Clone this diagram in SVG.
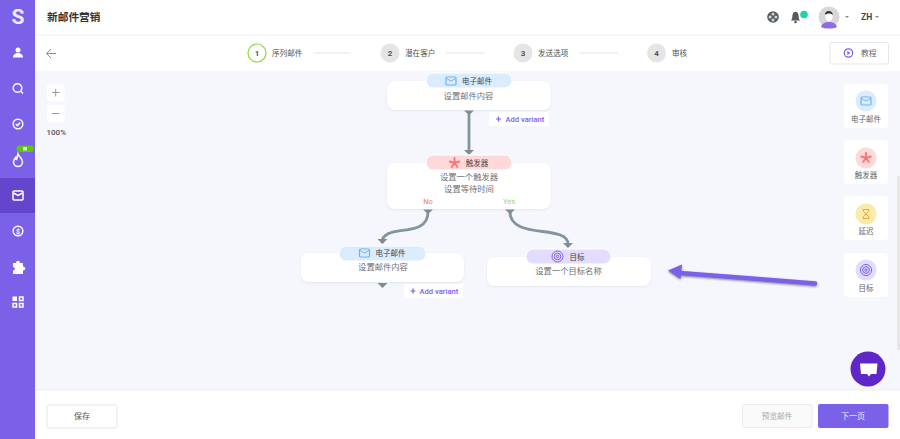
<svg xmlns="http://www.w3.org/2000/svg" width="900" height="439" viewBox="0 0 900 439">
<style>
text{font-family:Roboto,"Noto Sans CJK SC",sans-serif}
.cn{font-family:"Noto Sans CJK SC",sans-serif}
.card{fill:#fff;filter:url(#sh)}
.body{font-size:8.3px;fill:#6f6f75;text-anchor:middle;font-family:"Noto Sans CJK SC",sans-serif}
.pilltx{font-size:7.5px;fill:#444;text-anchor:middle;font-family:"Noto Sans CJK SC",sans-serif}
.side{fill:none;stroke:#fff;stroke-width:1.5}
.conn{fill:none;stroke:#82959f;stroke-width:2.8}
.head{fill:#7f8c93}
.var{font-size:7.6px;fill:#7b60e8;font-weight:500}
.step{font-size:7.6px;fill:#555;font-family:"Noto Sans CJK SC",sans-serif}
.stepn{font-size:8px;fill:#555;font-weight:bold;text-anchor:middle}
.pal{font-size:7.5px;fill:#5f5f65;text-anchor:middle;font-family:"Noto Sans CJK SC",sans-serif}
.rail{stroke:#e4e4e6;stroke-width:1}
</style>
<defs>
<filter id="sh" x="-10%" y="-20%" width="120%" height="150%"><feDropShadow dx="0" dy="1" stdDeviation="1" flood-color="#8a8fb0" flood-opacity=".18"/></filter>
<filter id="ash" x="-10%" y="-50%" width="120%" height="220%"><feDropShadow dx="0" dy="1" stdDeviation=".8" flood-color="#222" flood-opacity=".55"/></filter>
<g id="mail"><rect x="-5" y="-4" width="10" height="8" rx="1" fill="none" stroke="#6db3f5" stroke-width="1.200"/><path d="M-4.500 -2.500L0 0L4.500 -2.500" fill="none" stroke="#6db3f5" stroke-width="1"/></g>
<g id="star" stroke="#fb7373" stroke-width="1.900" stroke-linecap="round"><path d="M0 0V-5M0 0L4.700 -1.500M0 0L-4.700 -1.500M0 0L2.900 4M0 0L-2.900 4"/></g>
<g id="goal" fill="none" stroke="#7b60e8" stroke-width="1"><circle r="5.500"/><circle r="3.300"/><circle r="1.200"/></g>
</defs>

<rect width="900" height="439" fill="#f6f7fd"/>

<g id="header">
<rect x="35" width="865" height="34" fill="#fff"/>
<rect x="35" y="36" width="865" height="35" fill="#fff"/>
<text class="cn" x="47" y="21" font-size="10.700" font-weight="bold" fill="#333">新邮件营销</text>
<g id="help-icon" transform="translate(773,17)"><circle r="5.800" fill="#555b60"/><circle cy="-2.900" r="1.500" fill="#d5d6d8"/><circle cy="2.900" r="1.500" fill="#d5d6d8"/><circle cx="-2.900" r="1.500" fill="#d5d6d8"/><circle cx="2.900" r="1.500" fill="#d5d6d8"/></g>
<g id="bell-icon"><path d="M791 20.500c1.500-1.500 1-3 1.500-5.500.4-2 1.500-3.200 3-3.200s2.600 1.200 3 3.200c.5 2.500 0 4 1.500 5.500z" fill="#555b60"/><circle cx="795.500" cy="22" r="1.300" fill="#555b60"/><circle cx="804" cy="14.500" r="3.800" fill="#1dd3a5"/></g>
<g id="avatar"><circle cx="829" cy="17" r="10.500" fill="#d8d8da"/><path d="M821 27c1-4 5-5 8-5s7 1 8 5c-2 1-5 1.500-8 1.500s-6-.5-8-1.500z" fill="#8e6be8"/><ellipse cx="829" cy="16.500" rx="3.600" ry="5" fill="#fff"/><path d="M825 15c-.5-5 7.500-5.500 8 0-2-2-6-2-8 0z" fill="#333"/></g>
<path d="M845 16h4l-2 2z" fill="#888"/>
<text x="861" y="20" font-size="8.500" font-weight="bold" fill="#444">ZH</text>
<path d="M875 16h4l-2 2z" fill="#888"/>
<path d="M56 53.500H47M51 49l-4.500 4.500L51 58" fill="none" stroke="#8d8d90" stroke-width="1"/>
</g>

<g id="stepper">
<circle cx="257" cy="53" r="9" fill="#fff" stroke="#8fd53a" stroke-width="1.200"/><text class="stepn" x="257" y="56">1</text><text class="step" x="272" y="56">序列邮件</text>
<line class="rail" x1="313" y1="53" x2="351" y2="53"/>
<circle cx="390" cy="53" r="9.500" fill="#e5e5e5"/><text class="stepn" x="390" y="56">2</text><text class="step" x="405" y="56">潜在客户</text>
<line class="rail" x1="446" y1="53" x2="485" y2="53"/>
<circle cx="523" cy="53" r="9.500" fill="#e5e5e5"/><text class="stepn" x="523" y="56">3</text><text class="step" x="538" y="56">发送选项</text>
<line class="rail" x1="579" y1="53" x2="618" y2="53"/>
<circle cx="656.500" cy="53" r="9.500" fill="#e5e5e5"/><text class="stepn" x="656.500" y="56">4</text><text class="step" x="672" y="56">审核</text>
</g>

<g id="tutorial-button">
<rect x="830" y="42.500" width="58.500" height="21.500" rx="2" fill="#fff" stroke="#e6e6ea"/>
<circle cx="848.500" cy="53" r="4.200" fill="none" stroke="#7b60e8" stroke-width="1.200"/><path d="M847.300 51v4l3-2z" fill="#7b60e8"/>
<text class="cn" x="861" y="56" font-size="7.800" fill="#666">教程</text>
</g>

<g id="sidebar">
<rect width="35" height="439" fill="#7b60e8"/>
<rect y="178" width="35" height="35" fill="#6346cc"/>
<text x="18" y="24" font-size="21" font-weight="bold" fill="#f0ecff" text-anchor="middle">S</text>
<circle cx="18" cy="50" r="2.500" fill="#fff"/><path d="M13 57.500c0-6 10-6 10 0z" fill="#fff"/>
<circle class="side" cx="17.500" cy="88" r="4.300"/><path class="side" d="M20.800 91.300l2.200 2.200"/>
<circle class="side" cx="18" cy="124" r="4.800"/><path class="side" d="M15.800 124l1.600 1.600 2.800-3"/>
<rect x="16.500" y="145.500" width="17.500" height="6.500" rx="3.200" fill="#5ec411"/><rect x="23" y="147" width="4" height="3.500" fill="#dff5c5"/>
<path class="side" d="M18 154c1 3 4.500 4 4.500 8a4.500 4.500 0 0 1-9 0c0-2 1-3.500 2-4.500 0 1.500.5 2 1 2 .5-2 1-3.500 1.500-5.500z"/>
<rect x="13" y="191" width="10" height="9" rx="1" fill="none" stroke="#fff" stroke-width="1.500"/><path class="side" d="M13.500 193l4.500 2.500 4.500-2.500"/>
<circle class="side" cx="18" cy="231" r="4.800"/><text x="18" y="233.500" font-size="7" font-weight="bold" fill="#fff" text-anchor="middle">$</text>
<path d="M13 263h3c0-3 4-3 4 0h3v3.500c3 0 3 4 0 4V274h-10v-3.500c2.500 0 2.500-3.500 0-3.500z" fill="#fff"/>
<rect x="12.500" y="296.500" width="4.500" height="4.500" fill="#fff"/><rect class="side" x="19.500" y="297" width="3.500" height="3.500" stroke-width="1.200"/><rect class="side" x="13" y="303.500" width="3.500" height="3.500" stroke-width="1.200"/><rect class="side" x="19.500" y="303.500" width="3.500" height="3.500" stroke-width="1.200"/>
</g>

<g id="zoom-controls">
<rect x="47" y="84" width="17.500" height="17.500" rx="2" fill="#fff"/><path d="M52 92.500h7.500M55.700 89v7.500" stroke="#999" stroke-width="1"/>
<rect x="47" y="105" width="17.500" height="17.500" rx="2" fill="#fff"/><path d="M52 113.500h7.500" stroke="#999" stroke-width="1"/>
<text x="46.500" y="135" font-size="8" font-weight="500" fill="#555">100%</text>
</g>

<g id="connectors">
<line class="conn" x1="469" y1="112" x2="469" y2="151"/>
<path class="conn" d="M428 212C428 240 382 222 382 243"/>
<path class="conn" d="M510 212C510 240 568 224 568 244"/>
<path class="head" d="M464 110.500h10l-5 4.500z"/>
<path class="head" d="M464 150h10l-5 5z"/>
<path class="head" d="M423 209.500h10l-5 4.500z"/>
<path class="head" d="M505 209.500h10l-5 4.500z"/>
<path class="head" d="M377.500 239h10l-5 5z"/>
<path class="head" d="M563 243h10l-5 5z"/>
<path class="head" d="M377.500 283h10l-5 5z"/>
</g>

<g id="node-email-1">
<rect class="card" x="387" y="81" width="164" height="29" rx="8"/>
<rect x="426" y="73" width="86" height="15" rx="7.500" fill="#dcecff" stroke="#fff"/>
<use href="#mail" x="451" y="81"/>
<text class="pilltx" x="477" y="84">电子邮件</text>
<text class="body" x="468.500" y="99">设置邮件内容</text>
<g id="add-variant-1"><rect x="489" y="112" width="60" height="14" fill="#fff"/><path d="M496 119h5M498.500 116.500v5" stroke="#7b60e8" stroke-width="1.200"/><text class="var" x="505.500" y="121.800">Add variant</text></g>
</g>

<g id="node-trigger">
<rect class="card" x="387" y="163" width="164" height="46" rx="8"/>
<rect x="426" y="155" width="86" height="15" rx="7.500" fill="#ffd9d9" stroke="#fff"/>
<use href="#star" x="454.500" y="163"/>
<text class="pilltx" x="477" y="166">触发器</text>
<text class="body" x="469" y="180">设置一个触发器</text>
<text class="body" x="469" y="192">设置等待时间</text>
<text x="428" y="204" font-size="7.500" fill="#fb7373" text-anchor="middle">No</text>
<text x="509" y="204" font-size="7.500" fill="#9ad95b" text-anchor="middle">Yes</text>
</g>

<g id="node-email-2">
<rect class="card" x="301" y="253" width="163" height="29" rx="8"/>
<rect x="339" y="246" width="87" height="15" rx="7.500" fill="#dcecff" stroke="#fff"/>
<use href="#mail" x="364.500" y="253"/>
<text class="pilltx" x="390.500" y="256">电子邮件</text>
<text class="body" x="383" y="270">设置邮件内容</text>
<g id="add-variant-2"><rect x="404" y="284" width="59" height="14" fill="#fff"/><path d="M410.500 291h5M413 288.500v5" stroke="#7b60e8" stroke-width="1.200"/><text class="var" x="419.500" y="293.800">Add variant</text></g>
</g>

<g id="node-goal">
<rect class="card" x="487" y="257" width="164" height="29" rx="8"/>
<rect x="526" y="249" width="85" height="15" rx="7.500" fill="#e3dcfc" stroke="#fff"/>
<use href="#goal" x="557.500" y="256.500"/>
<text class="pilltx" x="577" y="259.500">目标</text>
<text class="body" x="568.500" y="274">设置一个目标名称</text>
</g>

<g id="palette-email">
<rect x="844" y="84" width="44" height="44" rx="4" fill="#fff"/><circle cx="866" cy="101" r="10.500" fill="#dcecff"/><use href="#mail" x="866" y="101"/><text class="pal" x="866" y="121.500">电子邮件</text>
</g>
<g id="palette-trigger">
<rect x="844" y="140" width="44" height="44" rx="4" fill="#fff"/><circle cx="866" cy="158" r="10.500" fill="#ffd9d9"/><use href="#star" x="866" y="158"/><text class="pal" x="866" y="178">触发器</text>
</g>
<g id="palette-delay">
<rect x="844" y="196" width="44" height="44" rx="4" fill="#fff"/><circle cx="866" cy="214" r="10.500" fill="#fbeba8"/><path d="M862.500 209.500h7M862.500 218.500h7M863.500 209.500v2l2.500 2.500-2.500 2.500v2M868.500 209.500v2l-2.500 2.500 2.500 2.500v2" fill="none" stroke="#eda93c" stroke-width="1"/><text class="pal" x="866" y="234">延迟</text>
</g>
<g id="palette-goal">
<rect x="844" y="253" width="44" height="44" rx="4" fill="#fff"/><circle cx="866" cy="270" r="10.500" fill="#e3dcfc"/><use href="#goal" x="866" y="270"/><text class="pal" x="866" y="290.500">目标</text>
</g>

<rect id="scrollbar" x="897" y="176" width="3" height="174" fill="#e6e6e6"/>

<g id="callout-arrow" filter="url(#ash)">
<path d="M815 283.500L680 273" fill="none" stroke="#7b60e8" stroke-width="4.500" stroke-linecap="round"/>
<path d="M668 270.500L682 264.500L680.500 279z" fill="#7b60e8"/>
</g>

<g id="chat-button">
<circle cx="868" cy="369" r="17.500" fill="#5f27c7"/>
<path d="M860 363.500h17.500l-1 10.500h-5.500l-2 2.500-2-2.500h-6z" fill="#fff"/>
</g>

<g id="footer">
<rect y="390" x="35" width="865" height="49" fill="#fff"/>
<line x1="35" y1="390" x2="900" y2="390" stroke="#eceef2"/>
<rect x="47" y="405" width="70" height="23" rx="2" fill="#fff" stroke="#e6e6ea"/>
<text class="cn" x="82" y="419" font-size="8" fill="#555" text-anchor="middle">保存</text>
<rect x="742.500" y="404.500" width="69.500" height="23" rx="2" fill="#fafafa" stroke="#ececee"/>
<text class="cn" x="777" y="419" font-size="7.600" fill="#aaa" text-anchor="middle">预览邮件</text>
<rect x="818" y="404" width="70.500" height="24" rx="2" fill="#7b60e8"/>
<text class="cn" x="853" y="419" font-size="8" fill="#f0ecff" text-anchor="middle">下一页</text>
</g>
</svg>
